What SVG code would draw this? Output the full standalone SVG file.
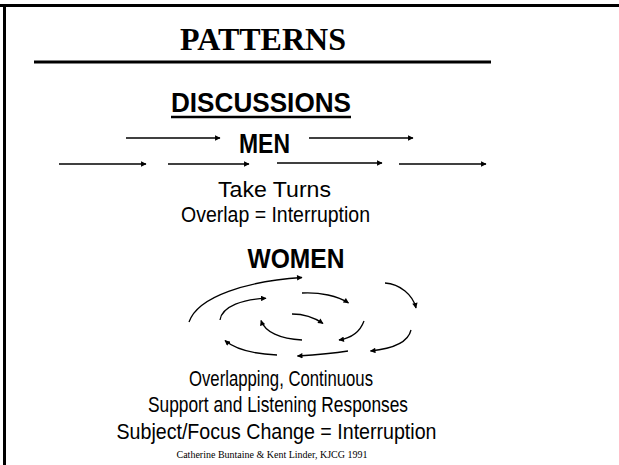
<svg xmlns="http://www.w3.org/2000/svg" width="619" height="465" viewBox="0 0 619 465">
<style>
.t{font-family:"Liberation Sans",Arial,sans-serif;fill:#000;text-anchor:middle}
.r{font-size:22px}
.b{font-size:28px;font-weight:bold}
.ln{stroke:#000;fill:none}
.c{stroke:#000;stroke-width:1.3;fill:none;marker-end:url(#ah)}
</style>
<defs>
<marker id="ah" viewBox="0 0 10 10" refX="9" refY="5" markerWidth="6.5" markerHeight="5.5" markerUnits="userSpaceOnUse" orient="auto"><path d="M0,0 L10,5 L0,10 Z" fill="#000"/></marker>
</defs>
<rect width="619" height="465" fill="#fff"/>
<g id="frame">
<line class="ln" x1="0" y1="5.5" x2="619" y2="5.5" stroke-width="3"/>
<line class="ln" x1="4.5" y1="4" x2="4.5" y2="465" stroke-width="3"/>
</g>
<g id="title">
<text x="263" y="50" style="font-family:'Liberation Serif','Times New Roman',serif;font-weight:bold;font-size:32px;text-anchor:middle">PATTERNS</text>
<line class="ln" x1="34" y1="62" x2="491" y2="62" stroke-width="3"/>
</g>
<g id="discussions">
<text class="t b" x="261" y="112" textLength="180" lengthAdjust="spacingAndGlyphs">DISCUSSIONS</text>
<line class="ln" x1="171" y1="117" x2="351" y2="117" stroke-width="2.5"/>
</g>
<g id="men">
<text class="t b" x="264.5" y="153" textLength="51" lengthAdjust="spacingAndGlyphs">MEN</text>
<text class="t r" x="274.5" y="197" textLength="113" lengthAdjust="spacingAndGlyphs">Take Turns</text>
<text class="t r" x="275.5" y="222" textLength="189" lengthAdjust="spacingAndGlyphs">Overlap = Interruption</text>
</g>
<g id="women">
<text class="t b" x="296" y="268" textLength="97" lengthAdjust="spacingAndGlyphs">WOMEN</text>
<text class="t r" x="281" y="386" textLength="184" lengthAdjust="spacingAndGlyphs">Overlapping, Continuous</text>
<text class="t r" x="278" y="412" textLength="260" lengthAdjust="spacingAndGlyphs">Support and Listening Responses</text>
<text class="t r" x="276.5" y="439" textLength="320" lengthAdjust="spacingAndGlyphs">Subject/Focus Change = Interruption</text>
</g>
<g id="credit">
<text x="272" y="458" style="font-family:'Liberation Serif','Times New Roman',serif;font-size:10px;text-anchor:middle">Catherine Buntaine &amp; Kent Linder, KJCG 1991</text>
</g>
<g id="connectors">
<line class="c" x1="126" y1="138" x2="220" y2="138"/>
<line class="c" x1="309" y1="138" x2="413" y2="138"/>
<line class="c" x1="59" y1="164" x2="146" y2="164"/>
<line class="c" x1="168" y1="164" x2="249" y2="164"/>
<line class="c" x1="277" y1="163" x2="382" y2="163"/>
<line class="c" x1="399" y1="164" x2="486" y2="164"/>
<path class="c" d="M189,322 C198,296 248,281 302,277.5"/>
<path class="c" d="M220,320 C222,306 244,299 266,298.3"/>
<path class="c" d="M302,293 C320,292 338,296 348.5,303"/>
<path class="c" d="M385,283 C400,284 413,295 416,308"/>
<path class="c" d="M292,314 C305,314 315,318 323,323.5"/>
<path class="c" d="M302,340 C280,339 265,332 261,320.5"/>
<path class="c" d="M364,321 C360,332 352,338 339,340"/>
<path class="c" d="M411,330 C408,343 390,349 370.5,351"/>
<path class="c" d="M348,351 C330,354 315,355 297.5,356"/>
<path class="c" d="M277,355 C255,354 235,349 225,340.5"/>
</g>
</svg>
